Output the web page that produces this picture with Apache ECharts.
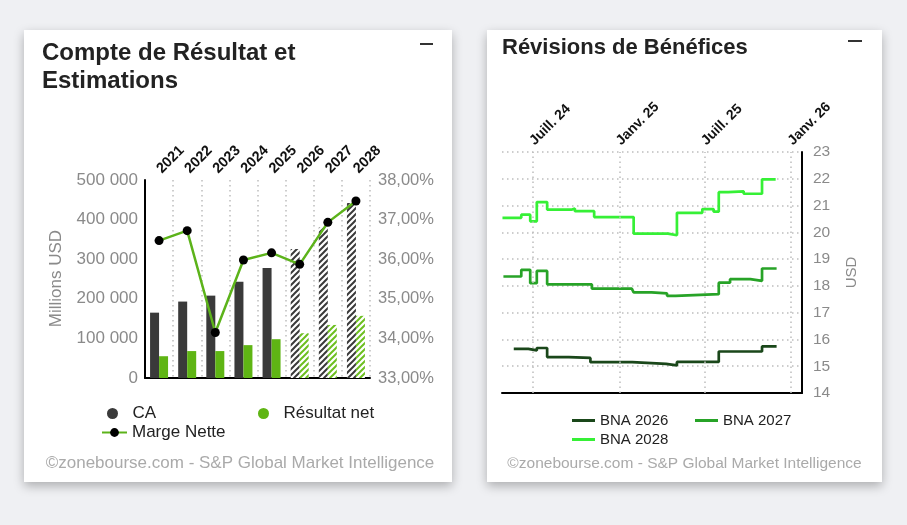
<!DOCTYPE html>
<html>
<head>
<meta charset="utf-8">
<script src="https://cdn.jsdelivr.net/npm/echarts@6/dist/echarts.min.js"></script>
<style>
body{margin:0;width:907px;height:525px;background:#eff0f3;overflow:hidden;}
.carte{position:absolute;top:30px;height:452px;background:#fff;box-shadow:0 4px 10px rgba(0,0,0,0.28);}
#gauche{left:24px;width:428px;}
#droite{left:487px;width:395px;}
</style>
</head>
<body>
<div class="carte" id="gauche"></div>
<div class="carte" id="droite"></div>
<script>
var police = "'Liberation Sans', Arial, sans-serif";

// compte de resultat (millions USD) et marge nette (%)
var annees = ['2021', '2022', '2023', '2024', '2025', '2026', '2027', '2028'];
var chiffreAffaires = [165000, 193000, 208000, 243000, 278000, 326000, 380000, 442000];
var resultatNet = [55000, 68000, 68000, 83000, 98000, 113000, 134000, 157000];
var margeNette = [36.47, 36.72, 34.15, 35.98, 36.16, 35.87, 36.93, 37.47];
var premiereEstimation = 5;

// revisions de benefices (BNA, USD)
var datesBna2026 = ['2024-05-21', '2024-06-21', '2024-07-09', '2024-07-31', '2024-09-15', '2024-10-31', '2025-01-28', '2025-04-10', '2025-05-03', '2025-07-31', '2025-10-31', '2025-12-01'];
var valeursBna2026 = [15.65, 15.59, 15.68, 15.34, 15.31, 15.15, 15.09, 15.03, 15.16, 15.55, 15.74, 15.74];
var datesBna2027 = ['2024-04-29', '2024-06-06', '2024-06-25', '2024-07-09', '2024-07-31', '2024-11-03', '2025-01-27', '2025-01-31', '2025-03-10', '2025-04-12', '2025-04-30', '2025-07-31', '2025-08-24', '2025-10-06', '2025-10-31', '2025-12-01'];
var valeursBna2027 = [18.35, 18.6, 18.1, 18.56, 18.06, 17.9, 17.97, 17.76, 17.72, 17.63, 17.69, 18.12, 18.25, 18.19, 18.65, 18.65];
var datesBna2028 = ['2024-04-27', '2024-06-06', '2024-06-25', '2024-07-09', '2024-07-31', '2024-09-22', '2024-09-28', '2024-11-08', '2025-01-31', '2025-04-14', '2025-05-03', '2025-06-26', '2025-07-20', '2025-07-31', '2025-08-20', '2025-09-22', '2025-10-31', '2025-11-29'];
var valeursBna2028 = [20.54, 20.66, 20.41, 21.13, 20.85, 20.89, 20.79, 20.57, 19.95, 19.89, 20.73, 20.87, 20.77, 21.5, 21.53, 21.44, 21.98, 21.98];
var datesRepere = ['2024-07-01', '2025-01-01', '2025-07-01', '2026-01-01'];
var etiquettesDates = ['Juill. 24', 'Janv. 25', 'Juill. 25', 'Janv. 26'];
var debutAxe = '2024-04-26';
var finAxe = '2026-01-24';

function jour(s) {
    var p = s.split('-');
    return new Date(+p[0], p[1] - 1, +p[2]).getTime();
}

function hachure(couleur) {
    var c = document.createElement('canvas');
    c.width = 6; c.height = 6;
    var g = c.getContext('2d');
    g.fillStyle = '#fff';
    g.fillRect(0, 0, 6, 6);
    g.strokeStyle = couleur;
    g.lineWidth = 2;
    g.beginPath();
    g.moveTo(0, 6); g.lineTo(6, 0);
    g.moveTo(-3, 3); g.lineTo(3, -3);
    g.moveTo(3, 9); g.lineTo(9, 3);
    g.stroke();
    return {image: c, repeat: 'repeat'};
}

function barres(valeurs, couleur) {
    return valeurs.map(function (v, i) {
        if (i >= premiereEstimation) {
            return {value: v, itemStyle: {color: hachure(couleur)}};
        }
        return v;
    });
}

function milliers(v) {
    return String(v).replace(/\B(?=(\d{3})+(?!\d))/g, ' ');
}

var pointille = {type: [1.5, 3.5], color: '#bdbdbd', width: 1.5};

var graphGauche = echarts.init(document.getElementById('gauche'));
graphGauche.setOption({
    animation: false,
    textStyle: {fontFamily: police},
    title: {
        text: 'Compte de Résultat et\nEstimations',
        left: 18, top: 9, padding: 0,
        textStyle: {fontSize: 24, fontWeight: 'bold', color: '#222', lineHeight: 28}
    },
    legend: [
        {data: ['CA'], left: 78, top: 370, icon: 'circle', itemWidth: 30, itemHeight: 11,
            textStyle: {fontSize: 17, color: '#222'}},
        {data: ['Résultat net'], left: 229, top: 370, icon: 'circle', itemWidth: 30, itemHeight: 11,
            textStyle: {fontSize: 17, color: '#222'}},
        {data: ['Marge Nette'], left: 72, top: 389, itemWidth: 25, itemHeight: 11,
            textStyle: {fontSize: 17, color: '#222'}}
    ],
    grid: {left: 121, right: 82, top: 150, bottom: 104},
    xAxis: [
        {
            type: 'category', position: 'top', data: annees,
            axisLine: {show: false}, axisTick: {show: false},
            axisLabel: {rotate: 45, margin: 9, fontSize: 14.5, fontWeight: 'bold', color: '#111'},
            splitLine: {show: true, interval: 0, lineStyle: pointille}
        },
        {
            type: 'category', position: 'bottom', data: annees,
            axisLine: {lineStyle: {color: '#000', width: 2}},
            axisTick: {show: false}, axisLabel: {show: false}
        }
    ],
    yAxis: [
        {
            type: 'value', min: 0, max: 500000, interval: 100000,
            axisLine: {show: true, lineStyle: {color: '#000', width: 2}},
            axisTick: {show: false}, splitLine: {show: false},
            axisLabel: {fontSize: 17, color: '#8a8a8a', margin: 7, formatter: milliers}
        },
        {
            type: 'value', min: 33, max: 38, interval: 1, position: 'right',
            axisLine: {show: false}, axisTick: {show: false}, splitLine: {show: false},
            axisLabel: {fontSize: 16.5, color: '#8a8a8a', margin: 8,
                formatter: function (v) { return v.toFixed(2).replace('.', ',') + '%'; }}
        }
    ],
    series: [
        {
            name: 'CA', type: 'bar', data: barres(chiffreAffaires, '#3a3a3a'),
            barWidth: 9, barGap: '0%', itemStyle: {color: '#3a3a3a'}
        },
        {
            name: 'Résultat net', type: 'bar', data: barres(resultatNet, '#6cbf1f'),
            barWidth: 9, itemStyle: {color: '#5fb514'}
        },
        {
            name: 'Marge Nette', type: 'line', yAxisIndex: 1, data: margeNette,
            symbol: 'circle', symbolSize: 9, z: 10,
            itemStyle: {color: '#000'},
            lineStyle: {color: '#5cb31a', width: 2.5}
        }
    ],
    graphic: [
        {type: 'rect', left: 396, top: 13, shape: {width: 13, height: 2}, style: {fill: '#333'}},
        {type: 'text', x: 32.5, y: 248.5, rotation: Math.PI / 2,
            style: {text: 'Millions USD', fill: '#8a8a8a', font: '17px ' + police,
                align: 'center', verticalAlign: 'middle', textAlign: 'center', textVerticalAlign: 'middle'}},
        {type: 'text', x: 216, y: 433,
            style: {text: '©zonebourse.com - S&P Global Market Intelligence', fill: '#aaaaaa',
                font: '17px ' + police, align: 'center', verticalAlign: 'middle',
                textAlign: 'center', textVerticalAlign: 'middle'}}
    ]
});

function serieBna(nom, dates, valeurs, couleur, avecReperes) {
    var s = {
        name: nom, type: 'line', step: 'end', showSymbol: false,
        data: dates.map(function (d, i) { return [jour(d), valeurs[i]]; }),
        itemStyle: {color: couleur},
        lineStyle: {color: couleur, width: 2.7}
    };
    if (avecReperes) {
        s.markLine = {
            silent: true, symbol: ['none', 'none'], label: {show: false},
            lineStyle: pointille,
            data: datesRepere.map(function (d) { return {xAxis: jour(d)}; })
        };
    }
    return s;
}

var reperes = datesRepere.map(jour);
var hautGrille = 122;

var decorDroite = [
    {type: 'rect', left: 361, top: 10, shape: {width: 14, height: 2}, style: {fill: '#333'}},
    {type: 'text', x: 365, y: 242.5, rotation: Math.PI / 2,
        style: {text: 'USD', fill: '#8a8a8a', font: '15px ' + police,
            align: 'center', verticalAlign: 'middle', textAlign: 'center', textVerticalAlign: 'middle'}},
    {type: 'text', x: 197.5, y: 433.3,
        style: {text: '©zonebourse.com - S&P Global Market Intelligence', fill: '#aaaaaa',
            font: '15.5px ' + police, align: 'center', verticalAlign: 'middle',
            textAlign: 'center', textVerticalAlign: 'middle'}}
];

var graphDroite = echarts.init(document.getElementById('droite'));
graphDroite.setOption({
    animation: false,
    textStyle: {fontFamily: police},
    title: {
        text: 'Révisions de Bénéfices',
        left: 15, top: 4, padding: 0,
        textStyle: {fontSize: 22, fontWeight: 'bold', color: '#222', lineHeight: 27}
    },
    legend: [
        {data: ['BNA 2026'], left: 80, top: 378, icon: 'rect', itemWidth: 23, itemHeight: 3,
            textStyle: {fontSize: 15, color: '#222'}},
        {data: ['BNA 2027'], left: 203, top: 378, icon: 'rect', itemWidth: 23, itemHeight: 3,
            textStyle: {fontSize: 15, color: '#222'}},
        {data: ['BNA 2028'], left: 80, top: 397, icon: 'rect', itemWidth: 23, itemHeight: 3,
            textStyle: {fontSize: 15, color: '#222'}}
    ],
    grid: {left: 15, right: 80, top: hautGrille, bottom: 89},
    xAxis: [
        {
            type: 'value', position: 'top', min: jour(debutAxe), max: jour(finAxe),
            axisLine: {show: false}, axisTick: {show: false}, splitLine: {show: false},
            axisLabel: {show: false}
        },
        {
            type: 'value', position: 'bottom', min: jour(debutAxe), max: jour(finAxe),
            axisLine: {lineStyle: {color: '#000', width: 2}},
            axisTick: {show: false}, axisLabel: {show: false}, splitLine: {show: false}
        }
    ],
    yAxis: {
        type: 'value', position: 'right', min: 14, max: 23, interval: 1,
        axisLine: {show: true, lineStyle: {color: '#000', width: 2}},
        axisTick: {show: false},
        splitLine: {show: true, lineStyle: pointille},
        axisLabel: {fontSize: 15.5, color: '#8a8a8a', margin: 11}
    },
    series: [
        serieBna('BNA 2026', datesBna2026, valeursBna2026, '#1a471a', true),
        serieBna('BNA 2027', datesBna2027, valeursBna2027, '#27a327', false),
        serieBna('BNA 2028', datesBna2028, valeursBna2028, '#36f036', false)
    ],
    graphic: decorDroite
});

// etiquettes de dates placees par l'echelle de l'axe
var etiquettes = reperes.map(function (t, i) {
    var x = graphDroite.convertToPixel({xAxisIndex: 0}, t);
    return {
        type: 'text', x: x - 1, y: hautGrille - 9, rotation: Math.PI / 4,
        style: {text: etiquettesDates[i], fill: '#111', font: 'bold 14px ' + police,
            align: 'left', verticalAlign: 'middle', textAlign: 'left', textVerticalAlign: 'middle'}
    };
});
graphDroite.setOption({graphic: decorDroite.concat(etiquettes)});
</script>
</body>
</html>
